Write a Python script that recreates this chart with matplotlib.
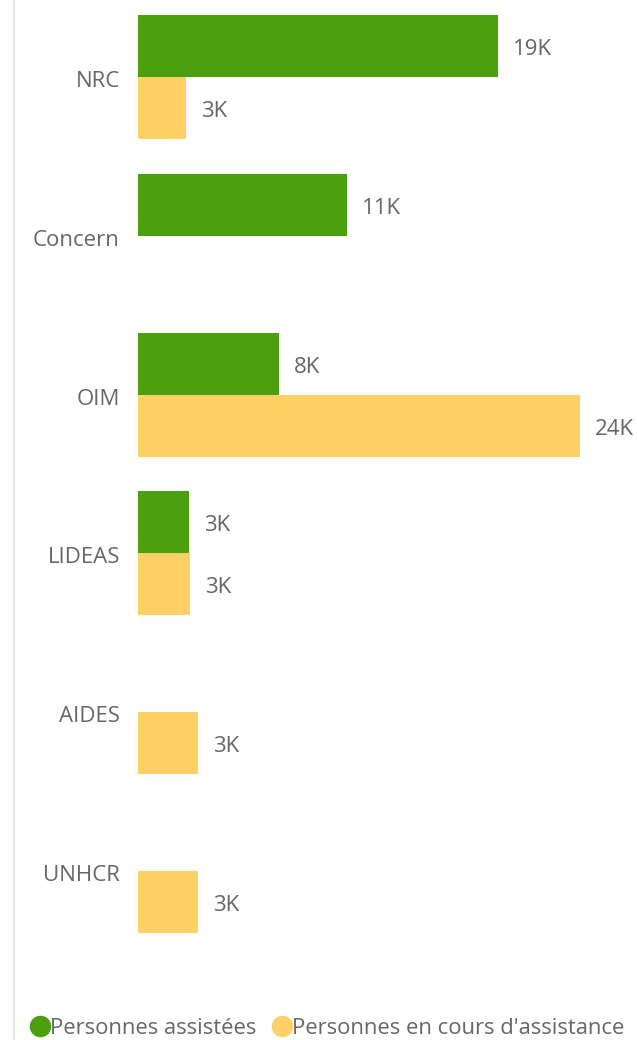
import numpy as np
import matplotlib.pyplot as plt
from matplotlib.lines import Line2D

plt.rcParams['font.family'] = ['Open Sans', 'DejaVu Sans']

# data (in persons)
orgs = ['NRC', 'Concern', 'OIM', 'LIDEAS', 'AIDES', 'UNHCR']
assistees = [19350, 11240, 7580, 2740, np.nan, np.nan]
en_cours = [2580, np.nan, 23760, 2800, 3230, 3230]
series_names = ['Personnes assistées', "Personnes en cours d'assistance"]

green = '#4CA010'
yellow = '#FFD066'
txt = '#666666'

W, H = 637, 1040
fig = plt.figure(figsize=(W / 100, H / 100), dpi=100)
# axes in pixel coords: left 138, right 637, top 15, bottom 933
ax = fig.add_axes([138 / W, 1 - 933 / H, (W - 138) / W, (933 - 15) / H])

bh = 62 / 159
y = np.arange(len(orgs))
ax.barh(y - bh / 2, assistees, height=bh, color=green)
ax.barh(y + bh / 2, en_cours, height=bh, color=yellow)

ax.set_ylim(len(orgs) - 1 + bh, -bh)
ax.set_xlim(0, (W - 138) * 1000 / 18.6)

for vals, off in [(assistees, -bh / 2), (en_cours, bh / 2)]:
    for i, v in enumerate(vals):
        if np.isnan(v):
            continue
        ax.annotate('{}K'.format(int(round(v / 1000))), (v, i + off),
                    xytext=(11, -2.5), textcoords='offset points',
                    va='center', ha='left', fontsize=16, color=txt,
                    annotation_clip=False)

# labels sit a touch below the group centre, as in the reference
ax.set_yticks(y + 2 / 159)
ax.set_yticklabels(orgs, fontsize=16, color=txt)
ax.tick_params(axis='y', length=0, pad=13)
ax.set_xticks([])
for s in ax.spines.values():
    s.set_visible(False)

# light frame line on the left
fig.add_artist(Line2D([13.5 / W, 13.5 / W], [0, 1], color='#e6e6e6', lw=1.5))

handles = [Line2D([], [], marker='o', ls='', markersize=14.5, color=c)
           for c in [green, yellow]]
fig.legend(handles, series_names, loc='lower left', bbox_to_anchor=(27 / W, 1 / H),
           ncol=2, frameon=False, fontsize=15.8, labelcolor=txt,
           handletextpad=-0.15, columnspacing=0.55, handlelength=1.2,
           borderaxespad=0, borderpad=0)

fig.savefig('out.png', dpi=100)
